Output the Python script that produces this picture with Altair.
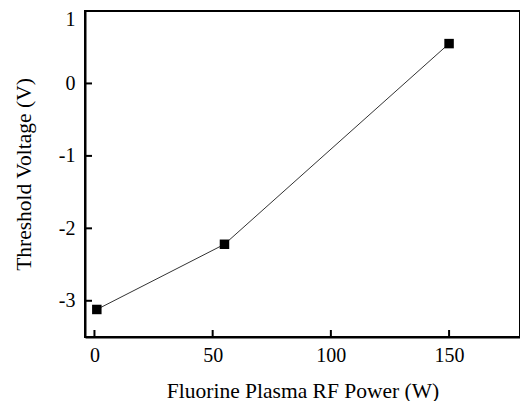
import altair as alt
import pandas as pd

power = [1, 55, 150]
vth = [-3.12, -2.22, 0.55]
x_ticks = [0, 50, 100, 150]
y_ticks = [-3, -2, -1, 0, 1]

W, H = 435, 326
FONT = "Liberation Serif"

df = pd.DataFrame({"x": power, "y": vth})
dfx = pd.DataFrame({"x": x_ticks})
dfy = pd.DataFrame({"y": y_ticks})

xscale = alt.Scale(domain=[-4, 180], nice=False, zero=False)
yscale = alt.Scale(domain=[-3.5, 1], nice=False, zero=False)

xaxis = alt.Axis(values=x_ticks, title="Fluorine Plasma RF Power (W)", tickSize=0,
                 labelPadding=8, titlePadding=15, grid=False, domainColor="black",
                 domainWidth=2, labelExpr="'' + datum.value")
yaxis = alt.Axis(values=y_ticks, title="Threshold Voltage (V)", tickSize=0,
                 labelPadding=10, titlePadding=23, grid=False, domainColor="black",
                 domainWidth=2, labelExpr="'' + datum.value",
                 labelFlush=True, labelFlushOffset=2)

line = alt.Chart(df).mark_line(color="#333333", strokeWidth=1).encode(
    x=alt.X("x:Q", scale=xscale, axis=xaxis),
    y=alt.Y("y:Q", scale=yscale, axis=yaxis),
)
pts = alt.Chart(df).mark_point(shape="square", filled=True, color="black", size=90, opacity=1).encode(
    x="x:Q", y="y:Q"
)
xt = alt.Chart(dfx).mark_rule(color="black", strokeWidth=2).encode(
    x="x:Q", y=alt.value(H), y2=alt.value(H - 7)
)
yt = alt.Chart(dfy).mark_rule(color="black", strokeWidth=2).encode(
    y="y:Q", x=alt.value(0), x2=alt.value(7)
)

chart = alt.layer(line, pts, xt, yt).properties(
    width=W, height=H,
    autosize=alt.AutoSizeParams(type="none"),
    padding={"left": 77, "top": 3, "right": 0, "bottom": 64},
).configure(background="white").configure_view(
    stroke="black", strokeWidth=2
).configure_axis(
    labelFont=FONT, titleFont=FONT, labelFontSize=20, titleFontSize=21.5,
    labelColor="black", titleColor="black", titleFontWeight="normal",
)

chart.save("out.html", embed_options={"renderer": "svg", "actions": False})
